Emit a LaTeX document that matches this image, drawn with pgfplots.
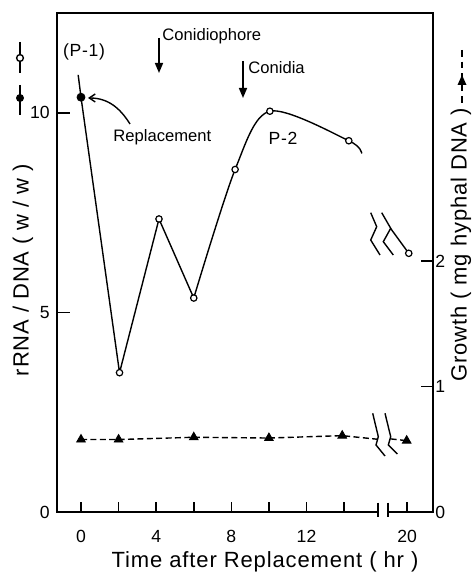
\documentclass[border=0pt]{standalone}
\usepackage{fontspec}
\setmainfont{Liberation Sans}
\newfontfamily\lab[LetterSpace=4]{Liberation Sans}
\usepackage{pgfplots}
\pgfplotsset{compat=1.18}
\usetikzlibrary{arrows.meta}
\def\P#1#2{({(#1-57)*0.5pt},{(512-#2)*0.5pt})}
\pgfplotsset{
  common/.style={
    scale only axis, width=188pt, height=249.5pt,
    xmin=-1.277, xmax=21.38,
    axis line style={line width=0.9pt},
    tick style={line width=0.8pt, black},
    tick align=inside,
    /pgf/number format/assume math mode=true,
    clip=false,
    ticklabel style={font=\fontsize{8.8}{10}\selectfont, inner sep=0pt},
  }
}
\begin{document}
\begin{tikzpicture}
\useasboundingbox (-28.5pt,-30pt) rectangle (209pt,256pt);
\pgfplotsset{x coord trafo/.code={\pgfmathparse{#1>17?#1-2.65:#1}}}
\begin{axis}[common,
  ymin=0, ymax=12.5,
  xtick={0,2,4,6,8,10,12,14,20},
  xticklabels={0,{},4,{},8,{},12,{},20},
  ytick={0,5,10},
  xtick pos=bottom, ytick pos=left,
  xtick style={/pgfplots/major tick length=5pt},
  ytick style={/pgfplots/major tick length=6.5pt},
  xticklabel style={anchor=north, yshift=-9pt},
  yticklabel style={anchor=east, xshift=-3.5pt},
]
\addplot[line width=0.7pt] coordinates {(-0.15,10.95)(0,10.39)(2.05,3.49)(4.15,7.34)(6.0,5.36)};
\addplot[line width=0.7pt, smooth] coordinates {(6.0,5.36)(8.2,8.58)(10.05,10.04)(14.25,9.30)(14.94,8.98)};
\addplot[line width=0.7pt] coordinates {(16.48,7.10)(20.09,6.48)};
\addplot[only marks, mark=*, mark size=1.6pt, mark options={fill=white, draw=black, line width=0.6pt}]
  coordinates {(2.05,3.49)(4.15,7.34)(6.0,5.36)(8.2,8.58)(10.05,10.04)(14.25,9.30)(20.09,6.48)};
\addplot[only marks, mark=*, mark size=2pt, black] coordinates {(0,10.39)};
\end{axis}
\begin{axis}[common,
  ymin=0, ymax=3.98,
  hide x axis, axis y line*=right,
  ytick={0,1,2},
  ytick style={/pgfplots/major tick length=6pt},
  yticklabel style={anchor=west, xshift=1pt},
]
\addplot[line width=0.7pt, dash pattern=on 3pt off 1.7pt] coordinates {(0,0.578)(2,0.578)(6,0.596)(10,0.59)(13.9,0.609)(15.79,0.58)};
\addplot[line width=0.7pt, dash pattern=on 3pt off 1.7pt] coordinates {(16.48,0.583)(19.98,0.569)};
\addplot[only marks, mark=triangle*, mark size=2.5pt, black] coordinates {(0,0.578)(2,0.578)(6,0.596)(10,0.59)(13.9,0.609)(19.98,0.569)};
\end{axis}
% x-axis break
\fill[white] \P{379}{508} rectangle \P{387}{516};
\draw[line width=0.8pt] \P{378}{502.7} -- \P{378}{517.3};
\draw[line width=0.8pt] \P{388}{502.7} -- \P{388}{517.3};
% zigzag breaks
\draw[line width=0.7pt] \P{370.7}{212.7} -- \P{376.7}{226.7} -- \P{370.7}{240} -- \P{380}{255};
\draw[line width=0.7pt] \P{381.7}{212.7} -- \P{390.7}{228.3} -- \P{383.3}{241.7} -- \P{393.3}{255};
\draw[line width=0.7pt] \P{372.7}{413.3} -- \P{378.3}{436.7} -- \P{376}{445} -- \P{385}{456};
\draw[line width=0.7pt] \P{385}{413.3} -- \P{390.7}{436.7} -- \P{388.3}{445} -- \P{397.3}{454};
% legend keys
\draw[line width=0.8pt] \P{20}{42} -- \P{20}{73};
\filldraw[fill=white, draw=black, line width=0.7pt] \P{20}{58} circle[radius=1.7pt];
\draw[line width=0.8pt] \P{20}{85} -- \P{20}{115};
\fill \P{20}{98} circle[radius=2pt];
\draw[line width=0.7pt, dash pattern=on 3.3pt off 2.5pt] \P{462}{50} -- \P{462}{107};
\fill \P{462}{75} -- \P{466.5}{85} -- \P{457.5}{85} -- cycle;
% annotations
\node[anchor=base, inner sep=0pt, font=\lab\fontsize{8.8}{10}\selectfont] at \P{84}{57} {(P-1)};
\node[anchor=base, inner sep=0pt, font=\lab\fontsize{8.8}{10}\selectfont] at \P{283}{145} {P-2};
\node[anchor=base west, inner sep=0pt, font=\fontsize{8.3}{10}\selectfont] at \P{162}{41} {Conidiophore};
\draw[line width=0.8pt, -{Triangle[length=5pt, width=4pt]}] \P{159}{38} -- \P{159}{73};
\node[anchor=base west, inner sep=0pt, font=\fontsize{8.3}{10}\selectfont] at \P{248}{74} {Conidia};
\draw[line width=0.8pt, -{Triangle[length=5pt, width=4pt]}] \P{243}{61} -- \P{243}{98};
\node[anchor=base west, inner sep=0pt, font=\fontsize{8.3}{10}\selectfont] at \P{113}{142} {Replacement};
\draw[line width=0.7pt, -{Straight Barb[length=3pt, width=4pt]}] \P{130}{124} .. controls \P{120}{108} and \P{108}{98} .. \P{88}{98};
% axis labels
\node[anchor=base, inner sep=0pt, font=\lab\fontsize{11}{13}\selectfont] at \P{265}{567} {Time after Replacement ( hr )};
\node[rotate=90, inner sep=0pt, font=\lab\fontsize{11}{13}\selectfont] at \P{23}{270} {rRNA / DNA ( w / w )};
\node[rotate=90, inner sep=0pt, font=\lab\fontsize{11}{13}\selectfont] at \P{461}{245} {Growth ( mg hyphal DNA )};
\end{tikzpicture}
\end{document}
